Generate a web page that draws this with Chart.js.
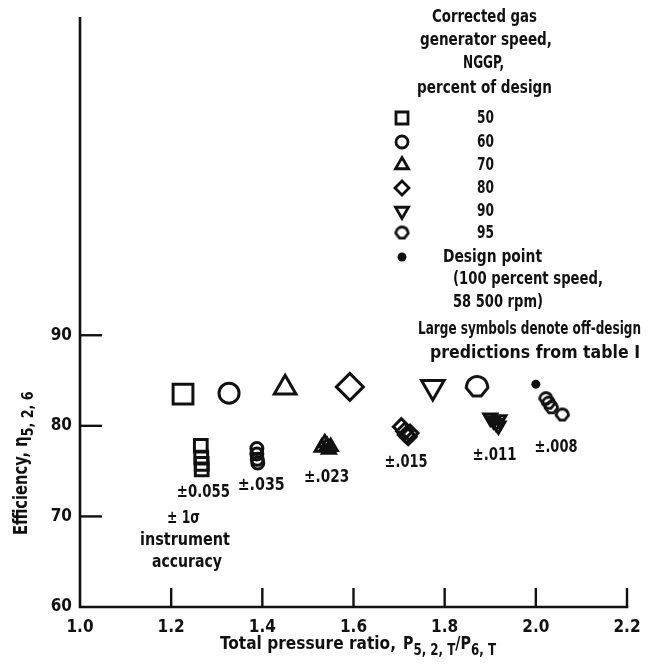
<!DOCTYPE html>
<html>
<head>
<meta charset="utf-8">
<script src="https://cdn.jsdelivr.net/npm/chart.js@4.4.1/dist/chart.umd.min.js"></script>
<style>
  html, body { margin: 0; padding: 0; background: #fff; }
  #wrap { width: 669px; height: 668px; }
</style>
</head>
<body>
<div id="wrap"><canvas id="effChart" width="669" height="668"></canvas></div>
<script>
const FONT = "'DejaVu Sans Condensed', 'Liberation Sans Narrow', sans-serif";
const INK = '#111';

// axis ticks
const xTicks = [1.0, 1.2, 1.4, 1.6, 1.8, 2.0, 2.2];
const yTicks = [60, 70, 80, 90];

// measured points, one pair of arrays per NGGP speed
const speeds = ['50', '60', '70', '80', '90', '95'];
const ratio50 = [1.265, 1.266, 1.267, 1.267];
const eff50 = [77.8, 76.5, 75.8, 75.2];
const ratio60 = [1.388, 1.388, 1.389, 1.390];
const eff60 = [77.5, 76.9, 76.3, 75.9];
const ratio70 = [1.530, 1.537, 1.542, 1.546, 1.550];
const eff70 = [77.6, 78.1, 77.8, 77.4, 77.7];
const ratio80 = [1.705, 1.712, 1.716, 1.720, 1.724];
const eff80 = [79.9, 79.4, 79.0, 78.8, 79.2];
const ratio90 = [1.900, 1.907, 1.913, 1.918, 1.920];
const eff90 = [80.9, 80.6, 80.3, 80.0, 80.7];
const ratio95 = [2.022, 2.028, 2.034, 2.058];
const eff95 = [83.0, 82.5, 82.0, 81.2];

// off-design predictions (large symbols), same speed order
const predRatio = [1.226, 1.327, 1.450, 1.592, 1.774, 1.871];
const predEff = [83.5, 83.6, 84.2, 84.3, 84.3, 84.3];

// design point
const designRatio = [2.0];
const designEff = [84.6];

// instrument accuracy per speed
const accuracy = ['\u00b10.055', '\u00b1.035', '\u00b1.023', '\u00b1.015', '\u00b1.011', '\u00b1.008'];

// the 95 percent symbol: rounded top, pointed shoulders, flat bottom
function shape95(r, lw) {
  const s = Math.ceil(2 * r + lw + 4);
  const c = document.createElement('canvas');
  c.width = s; c.height = s;
  const g = c.getContext('2d');
  const cx = s / 2, cy = s / 2;
  g.strokeStyle = INK;
  g.lineWidth = lw;
  g.lineJoin = 'miter';
  g.beginPath();
  g.arc(cx, cy, r, Math.PI * 1.08, -Math.PI * 0.08);
  g.lineTo(cx + r * 1.03, cy + r * 0.08);
  g.lineTo(cx + r * 0.4, cy + r * 0.85);
  g.lineTo(cx - r * 0.4, cy + r * 0.85);
  g.lineTo(cx - r * 1.03, cy + r * 0.08);
  g.closePath();
  g.stroke();
  return c;
}

const styles = [
  { pointStyle: 'rect', rotation: 0, small: 9, big: 14, legend: 8.5 },
  { pointStyle: 'circle', rotation: 0, small: 6, big: 10, legend: 6 },
  { pointStyle: 'triangle', rotation: 0, small: 7.5, big: 12.5, legend: 7.5 },
  { pointStyle: 'rectRot', rotation: 0, small: 8, big: 13.5, legend: 7 },
  { pointStyle: 'triangle', rotation: 180, small: 7.5, big: 13, legend: 7.5 },
  { pointStyle: 'shape95', rotation: 0, small: 6, big: 10.5, legend: 6 }
];

const small95 = shape95(styles[5].small, 2.8);
const big95 = shape95(styles[5].big, 3);
const legend95 = shape95(styles[5].legend, 2.8);

const measured = [
  [ratio50, eff50], [ratio60, eff60], [ratio70, eff70],
  [ratio80, eff80], [ratio90, eff90], [ratio95, eff95]
];

const datasets = measured.map(([xs, ys], i) => ({
  label: speeds[i],
  data: xs.map((x, j) => ({ x, y: ys[j] })),
  pointStyle: styles[i].pointStyle === 'shape95' ? small95 : styles[i].pointStyle,
  rotation: styles[i].rotation,
  pointRadius: styles[i].small,
  borderWidth: 3,
  borderColor: INK,
  backgroundColor: 'rgba(0,0,0,0)'
}));

datasets.push({
  label: 'predictions',
  data: predRatio.map((x, i) => ({ x, y: predEff[i] })),
  pointStyle: styles.map(s => s.pointStyle === 'shape95' ? big95 : s.pointStyle),
  rotation: styles.map(s => s.rotation),
  pointRadius: styles.map(s => s.big),
  borderWidth: 3,
  borderColor: INK,
  backgroundColor: 'rgba(0,0,0,0)'
});

datasets.push({
  label: 'design',
  data: designRatio.map((x, i) => ({ x, y: designEff[i] })),
  pointStyle: 'circle',
  pointRadius: 4.5,
  borderWidth: 0,
  backgroundColor: INK
});

// squeeze a line of lettering into the span x0..x1
function fit(ctx, t, x0, x1, y) {
  const w = ctx.measureText(t).width;
  ctx.save();
  ctx.textAlign = 'left';
  ctx.translate(x0, y);
  ctx.scale((x1 - x0) / w, 1);
  ctx.fillText(t, 0, 0);
  ctx.restore();
}

// main text followed by lowered subscripts, returns the end x
function withSubs(ctx, parts, x, y, size) {
  let cx = x;
  parts.forEach(([t, sub]) => {
    ctx.font = `bold ${sub ? size - 3 : size}px ${FONT}`;
    const w = ctx.measureText(t).width * 0.88;
    fit(ctx, t, cx, cx + w, sub ? y + 7 : y);
    cx += w;
  });
  return cx;
}

const legendTitle = [
  ['Corrected gas', 432, 537, 17],
  ['generator speed,', 420, 552, 40],
  ['NGGP,', 463, 504, 63],
  ['percent of design', 417, 552, 88]
];
const legendRowY = [118, 142, 165, 188, 211, 233];
const notes = [
  ['Design point', 443, 542, 257],
  ['(100 percent speed,', 453, 603, 279],
  ['58 500 rpm)', 453, 543, 302],
  ['Large symbols denote off-design', 418, 641, 329],
  ['predictions from table I', 430, 640, 353],
  ['\u00b1 1\u03c3', 167, 200, 518],
  ['instrument', 140, 230, 540],
  ['accuracy', 152, 222, 562]
];

const annotations = {
  id: 'annotations',
  beforeDatasetsDraw(chart) {
    const { ctx, chartArea, scales } = chart;
    const x = scales.x, y = scales.y;
    ctx.save();
    ctx.strokeStyle = INK;
    ctx.lineWidth = 2.6;
    ctx.lineCap = 'square';
    ctx.beginPath();
    ctx.moveTo(chartArea.left, chartArea.top);
    ctx.lineTo(chartArea.left, chartArea.bottom);
    ctx.lineTo(chartArea.right, chartArea.bottom);
    ctx.stroke();
    ctx.lineWidth = 2.4;
    ctx.lineCap = 'butt';
    yTicks.slice(1).forEach(v => {
      const py = y.getPixelForValue(v);
      ctx.beginPath();
      ctx.moveTo(chartArea.left, py);
      ctx.lineTo(chartArea.left + 22, py);
      ctx.stroke();
    });
    xTicks.slice(1).forEach(v => {
      const px = x.getPixelForValue(v);
      ctx.beginPath();
      ctx.moveTo(px, chartArea.bottom);
      ctx.lineTo(px, chartArea.bottom - 19);
      ctx.stroke();
    });
    ctx.restore();
  },
  afterDraw(chart) {
    const { ctx, scales } = chart;
    const x = scales.x, y = scales.y;
    ctx.save();
    ctx.fillStyle = INK;
    ctx.textBaseline = 'middle';
    ctx.font = `bold 18px ${FONT}`;

    // legend block
    legendTitle.forEach(([t, x0, x1, ly]) => fit(ctx, t, x0, x1, ly));
    speeds.forEach((s, i) => {
      const ly = legendRowY[i];
      fit(ctx, s, 477, 494, ly);
      const st = styles[i];
      ctx.save();
      ctx.strokeStyle = INK;
      ctx.lineWidth = 2.8;
      ctx.fillStyle = 'rgba(0,0,0,0)';
      Chart.helpers.drawPoint(ctx, {
        pointStyle: st.pointStyle === 'shape95' ? legend95 : st.pointStyle,
        rotation: st.rotation,
        radius: st.legend,
        borderWidth: 2.8
      }, 402, ly);
      ctx.restore();
    });
    ctx.beginPath();
    ctx.arc(402, 257, 4.5, 0, Math.PI * 2);
    ctx.fill();
    notes.forEach(([t, x0, x1, ly]) => fit(ctx, t, x0, x1, ly));

    // accuracy under each cluster: [dx, dy, width]
    const place = [[2, 23, 53], [4, 22, 47], [0, 28, 45], [0, 26, 43], [-1, 29, 44], [4, 32, 43]];
    measured.forEach(([xs, ys], i) => {
      const mx = xs.reduce((a, b) => a + b, 0) / xs.length;
      const cx = x.getPixelForValue(mx) + place[i][0];
      const cy = y.getPixelForValue(Math.min(...ys)) + place[i][1];
      fit(ctx, accuracy[i], cx - place[i][2] / 2, cx + place[i][2] / 2, cy);
    });

    // axis titles
    fit(ctx, 'Total pressure ratio,', 220, 396, 644);
    withSubs(ctx, [['P'], ['5, 2, T', true], ['/P'], ['6, T', true]], 403, 644, 18);

    ctx.translate(22, 466);
    ctx.rotate(-Math.PI / 2);
    // after rotation, x runs up the page
    ctx.font = `bold 19px ${FONT}`;
    fit(ctx, 'Efficiency,', -69, 14, 0);
    withSubs(ctx, [['\u03b7'], ['5, 2, 6', true]], 19, 0, 19);
    ctx.restore();
  }
};

new Chart(document.getElementById('effChart'), {
  type: 'scatter',
  data: { datasets },
  options: {
    responsive: false,
    animation: false,
    devicePixelRatio: 1,
    layout: { padding: { left: 0, right: 42, top: 9, bottom: 0 } },
    plugins: { legend: { display: false }, tooltip: { enabled: false } },
    scales: {
      x: {
        type: 'linear',
        min: 1.0,
        max: 2.2,
        afterBuildTicks: s => { s.ticks = xTicks.map(v => ({ value: v })); },
        afterFit: s => { s.height = 61; },
        grid: { display: false, drawTicks: false },
        border: { display: false },
        ticks: {
          padding: 10,
          color: INK,
          font: { family: FONT, size: 17, weight: 'bold' },
          callback: v => v.toFixed(1)
        }
      },
      y: {
        type: 'linear',
        min: 60,
        max: 125,
        afterBuildTicks: s => { s.ticks = yTicks.map(v => ({ value: v })); },
        afterFit: s => { s.width = 80; },
        grid: { display: false, drawTicks: false },
        border: { display: false },
        ticks: {
          padding: 8,
          color: INK,
          font: { family: FONT, size: 17, weight: 'bold' }
        }
      }
    }
  },
  plugins: [annotations]
});
</script>
</body>
</html>
